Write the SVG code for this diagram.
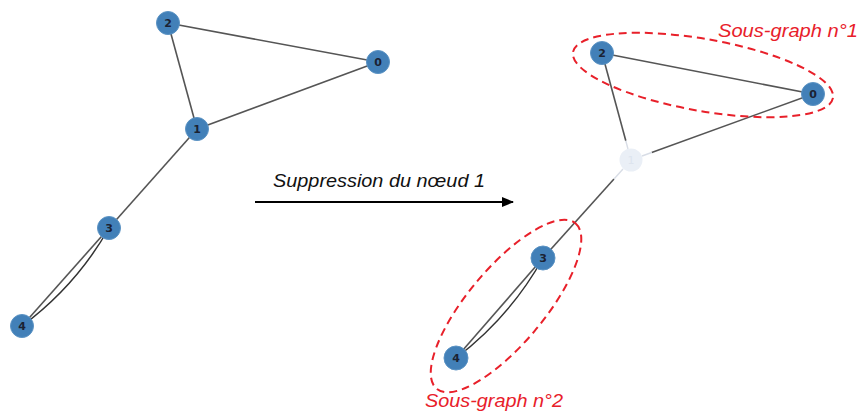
<svg xmlns="http://www.w3.org/2000/svg" width="862" height="414" viewBox="0 0 862 414">
<defs>
<style>
.edge{stroke:#555;stroke-width:1.6;fill:none}
.edge2{stroke:#333;stroke-width:1.5;fill:none}
.fade{stroke:#d8dde6;stroke-width:1.4;fill:none}
.node circle{fill:#4280b8;stroke:#5b93c4;stroke-width:1}
.node text{font-family:"DejaVu Sans",sans-serif;font-size:11px;font-weight:bold;fill:#1b2233;text-anchor:middle;dominant-baseline:central}
.ghost circle{fill:#eaeff6;stroke:none}
.ghost text{font-family:"DejaVu Sans",sans-serif;font-size:11px;fill:#dde4ee;text-anchor:middle;dominant-baseline:central}
.hull{fill:none;stroke:#e8202a;stroke-width:2;stroke-dasharray:8,5}
.red{font-family:"Liberation Sans",sans-serif;font-style:italic;font-size:19px;fill:#e8202a}
.cap{font-family:"Liberation Sans",sans-serif;font-style:italic;font-size:19px;fill:#111}
</style>
<marker id="ah" markerWidth="12" markerHeight="12" refX="11" refY="6" orient="auto" markerUnits="userSpaceOnUse">
<path d="M0,1 L12,6 L0,11 Z" fill="#000"/>
</marker>
</defs>
<rect width="862" height="414" fill="#fff"/>
<g id="connectors">
<line class="edge" x1="168" y1="23" x2="378" y2="62"/>
<line class="edge" x1="168" y1="23" x2="197" y2="129"/>
<line class="edge" x1="378" y1="62" x2="197" y2="129"/>
<line class="edge" x1="197" y1="129" x2="109" y2="228"/>
<line class="edge" x1="109" y1="228" x2="22" y2="326"/>
<path class="edge2" d="M109,228 Q76,286 22,326"/>
<line class="edge" x1="602" y1="53" x2="813" y2="94"/>
<line class="edge" x1="602" y1="53" x2="625.8" y2="140.7"/>
<line class="fade" x1="625.8" y1="140.7" x2="628" y2="149"/>
<line class="edge" x1="813" y1="94" x2="651.7" y2="152.5"/>
<line class="fade" x1="651.7" y1="152.5" x2="642" y2="156"/>
<line class="edge" x1="543" y1="258" x2="614" y2="179"/>
<line class="fade" x1="614" y1="179" x2="623" y2="169"/>
<line class="edge" x1="543" y1="258" x2="456" y2="358"/>
<path class="edge2" d="M543,258 Q510,317 456,358"/>
<line x1="255" y1="202" x2="513" y2="202" stroke="#000" stroke-width="2" marker-end="url(#ah)"/>
</g>
<g id="node-l2" class="node"><circle cx="168" cy="23" r="11.5"/><text x="168" y="23">2</text></g>
<g id="node-l0" class="node"><circle cx="378" cy="62" r="11.5"/><text x="378" y="62">0</text></g>
<g id="node-l1" class="node"><circle cx="197" cy="129" r="11.5"/><text x="197" y="129">1</text></g>
<g id="node-l3" class="node"><circle cx="109" cy="228" r="11.5"/><text x="109" y="228">3</text></g>
<g id="node-l4" class="node"><circle cx="22" cy="326" r="11.5"/><text x="22" y="326">4</text></g>
<g id="node-r1" class="ghost"><circle cx="631" cy="160" r="11.5"/><text x="631" y="160">1</text></g>
<g id="node-r2" class="node"><circle cx="602" cy="53" r="11.5"/><text x="602" y="53">2</text></g>
<g id="node-r0" class="node"><circle cx="813" cy="94" r="11.5"/><text x="813" y="94">0</text></g>
<g id="node-r3" class="node"><circle cx="543" cy="258" r="12"/><text x="543" y="258">3</text></g>
<g id="node-r4" class="node"><circle cx="456" cy="358" r="12"/><text x="456" y="358">4</text></g>
<g id="subgraph1">
<ellipse class="hull" cx="703" cy="75" rx="132" ry="36" transform="rotate(10 703 75)"/>
<text class="red" x="718" y="37" textLength="140" lengthAdjust="spacingAndGlyphs">Sous-graph n°1</text>
</g>
<g id="subgraph2">
<ellipse class="hull" cx="506" cy="306" rx="108" ry="38" transform="rotate(-50 506 306)"/>
<text class="red" x="425" y="407" textLength="138" lengthAdjust="spacingAndGlyphs">Sous-graph n°2</text>
</g>
<text class="cap" x="273" y="187" textLength="212" lengthAdjust="spacingAndGlyphs">Suppression du nœud 1</text>
</svg>
